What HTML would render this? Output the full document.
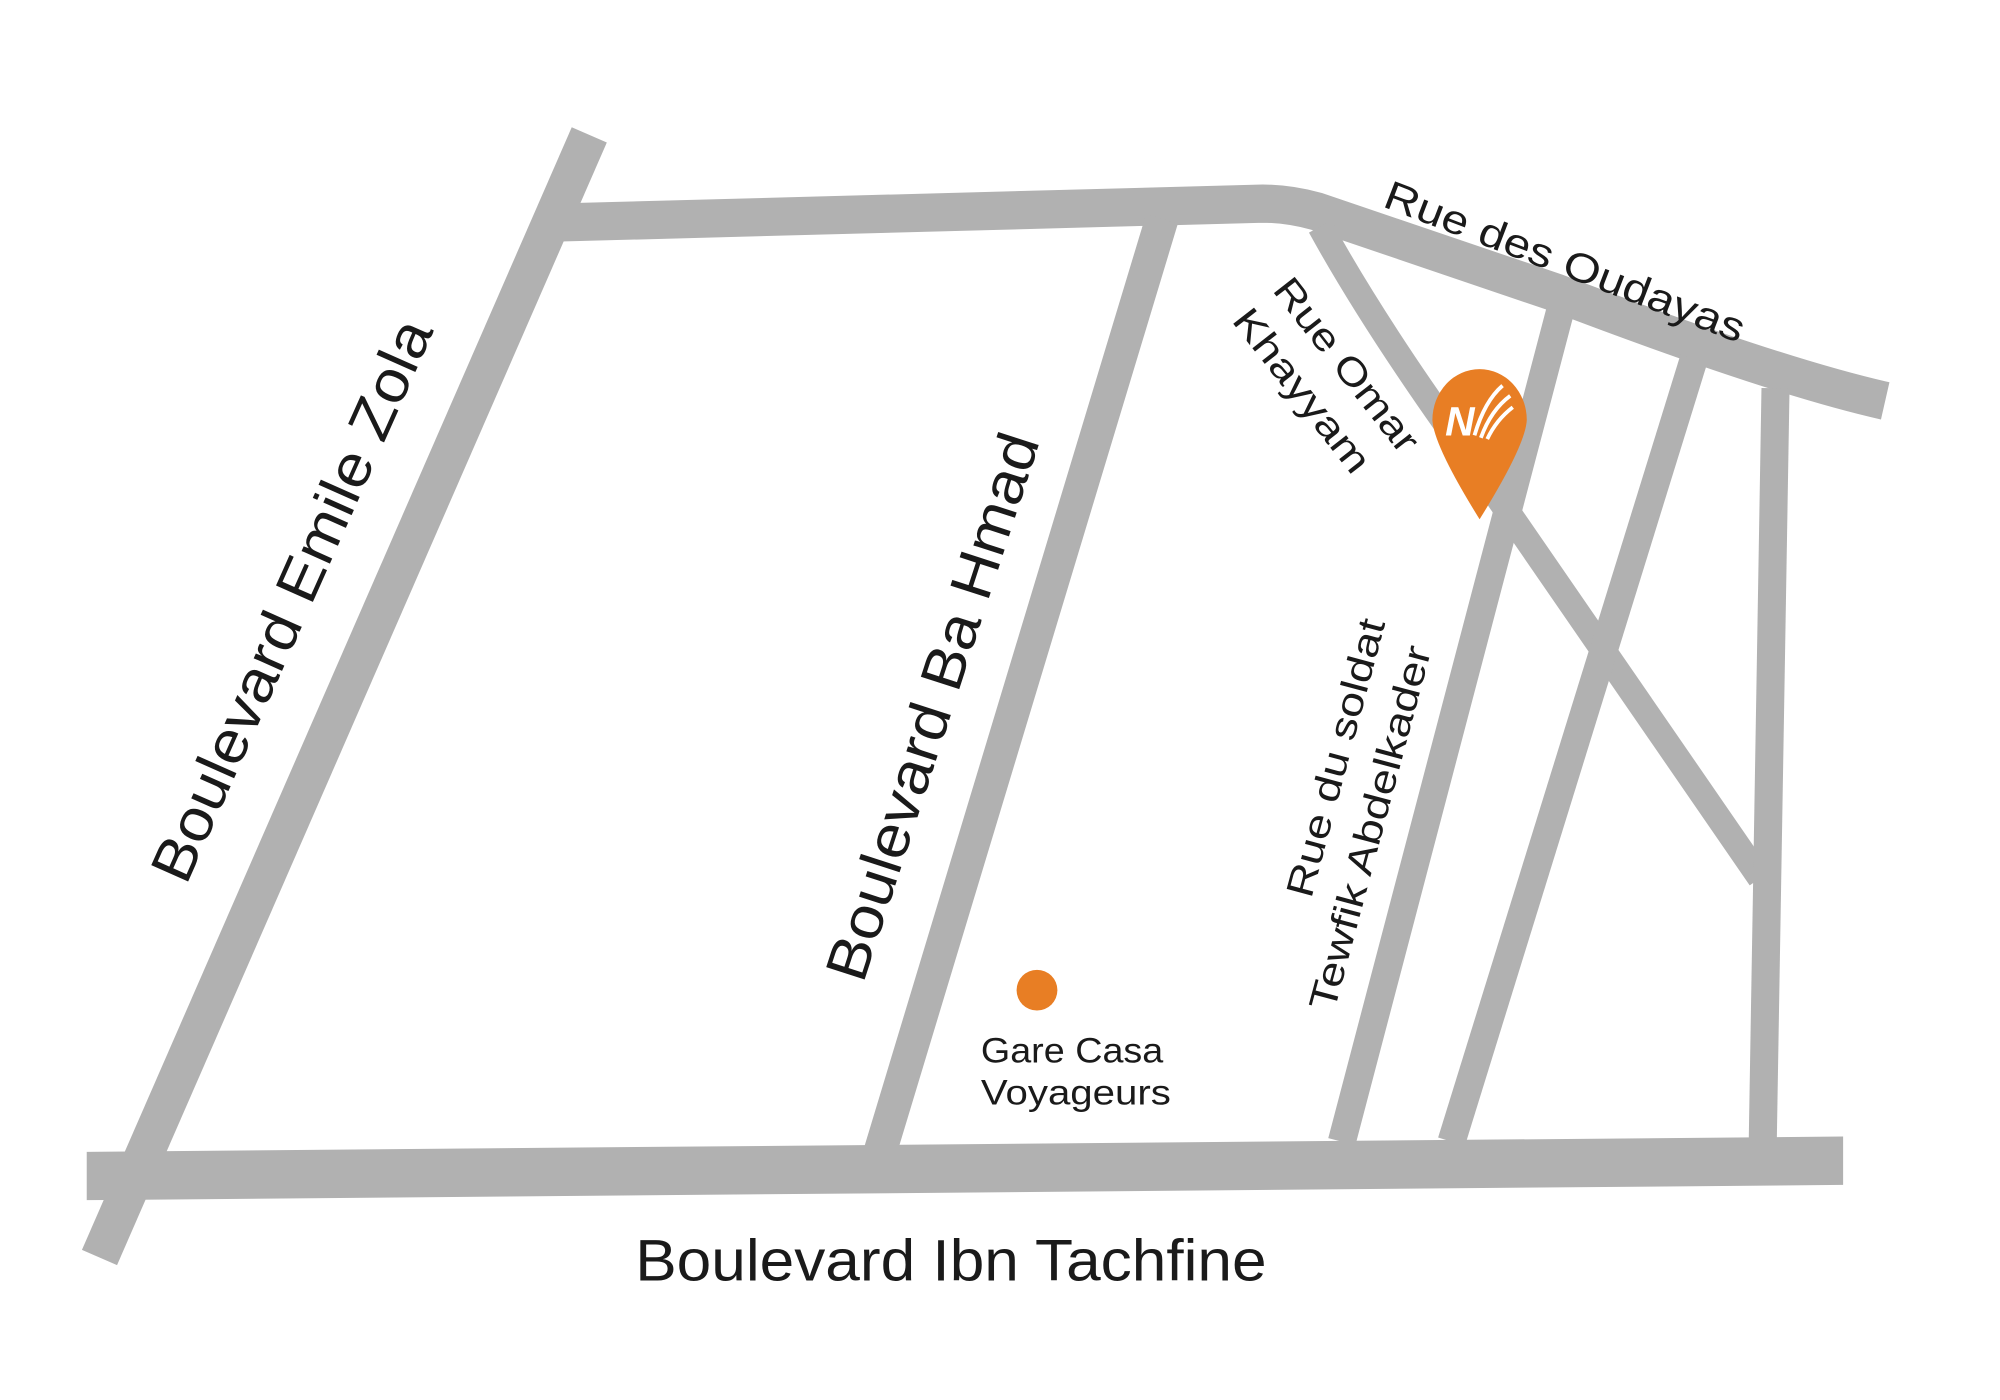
<!DOCTYPE html>
<html><head><meta charset="utf-8"><style>html,body{margin:0;padding:0;background:#fff}svg{display:block}text{font-family:"Liberation Sans",sans-serif;fill:#1a1a1a}</style></head>
<body>
<svg width="2000" height="1400" viewBox="0 0 1568 1100" preserveAspectRatio="none" xmlns="http://www.w3.org/2000/svg">
<g fill="none" stroke="#b1b1b1" stroke-linecap="butt">
<path d="M 432 175 L 990 160 Q 1010 160 1032 166 L 1220 230 Q 1390 295 1478 315" stroke-width="30"/>
<line x1="462" y1="106" x2="78" y2="988" stroke-width="30"/>
<line x1="911" y1="172" x2="690" y2="905" stroke-width="26"/>
<path d="M 1035 178 Q 1080 260 1160 370 L 1380 690" stroke-width="20"/>
<line x1="1223" y1="245" x2="1052" y2="897" stroke-width="22"/>
<line x1="1328" y1="282" x2="1138" y2="897" stroke-width="22"/>
<line x1="1392" y1="305" x2="1382" y2="897" stroke-width="22"/>
</g>
<polygon points="68,905 1445,893 1445,931 68,943" fill="#b1b1b1"/>
<path d="M 1160 408 Q 1124 350 1123 330 A 37 40 0 1 1 1197 330 Q 1196 350 1160 408 Z" fill="#e87e24"/>
<text x="1133" y="342" font-size="32" font-weight="bold" font-style="italic" style="fill:#fff">N</text>
<path d="M1156 342 Q1164 315 1178 303 M1161 344 Q1169 322 1184 311 M1166 345 Q1173 330 1186 320" stroke="#fff" stroke-width="3" fill="none"/>
<circle cx="813" cy="778" r="16" fill="#e87e24"/>
<text font-size="32" textLength="300" lengthAdjust="spacingAndGlyphs" transform="translate(1083,162) rotate(21)">Rue des Oudayas</text>
<text font-size="30" textLength="165" lengthAdjust="spacingAndGlyphs" transform="translate(997,228) rotate(52)">Rue Omar</text>
<text font-size="30" textLength="155" lengthAdjust="spacingAndGlyphs" transform="translate(965,252) rotate(52)">Khayyam</text>
<text font-size="46" text-anchor="middle" textLength="478" lengthAdjust="spacingAndGlyphs" transform="translate(243,478) rotate(-66)">Boulevard Emile Zola</text>
<text font-size="46" text-anchor="middle" textLength="449" lengthAdjust="spacingAndGlyphs" transform="translate(746,560) rotate(-72)">Boulevard Ba Hmad</text>
<text font-size="30" text-anchor="middle" textLength="225" lengthAdjust="spacingAndGlyphs" transform="translate(1057,598) rotate(-75)">Rue du soldat</text>
<text font-size="30" text-anchor="middle" textLength="295" lengthAdjust="spacingAndGlyphs" transform="translate(1084,653) rotate(-75)">Tewfik Abdelkader</text>
<text x="769" y="835" font-size="28" textLength="143" lengthAdjust="spacingAndGlyphs">Gare Casa</text>
<text x="769" y="868" font-size="28" textLength="149" lengthAdjust="spacingAndGlyphs">Voyageurs</text>
<text x="498" y="1006" font-size="46" textLength="495" lengthAdjust="spacingAndGlyphs">Boulevard Ibn Tachfine</text>
</svg>
</body></html>
